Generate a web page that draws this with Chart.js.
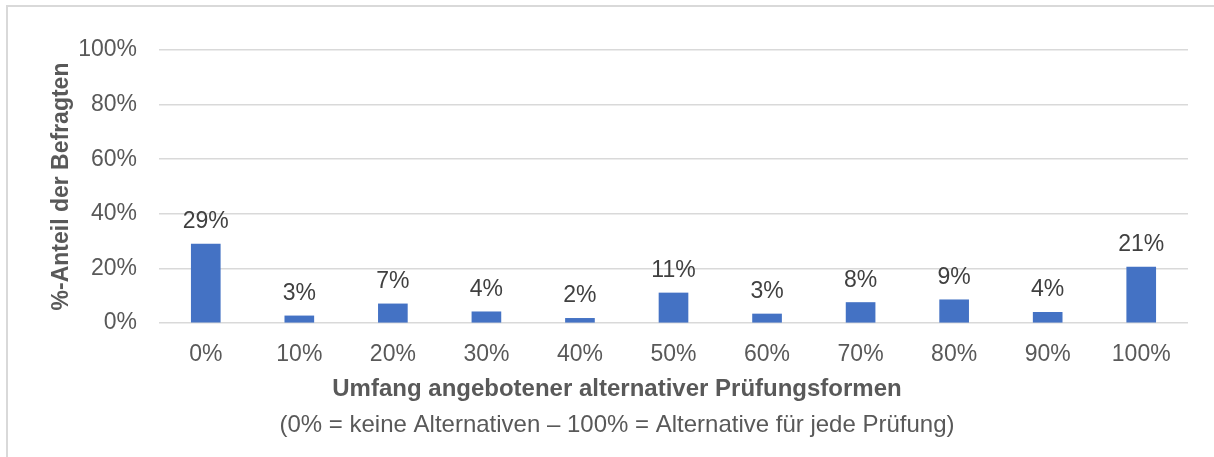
<!DOCTYPE html>
<html lang="de">
<head>
  <meta charset="utf-8" />
  <title>Umfang alternativer Prüfungsformen</title>
  <script src="https://cdn.jsdelivr.net/npm/chart.js@4.4.0/dist/chart.umd.min.js"></script>
  <style>
    html, body { margin: 0; padding: 0; background: #ffffff; overflow: hidden; }
    .frame {
      position: absolute; left: 6px; top: 5px; width: 1400px; height: 600px;
      border: 2px solid #d9d9d9;
    }
    .box { position: absolute; left: 0; top: 0; width: 1214px; height: 457px; }
  </style>
</head>
<body>
  <div class="frame"></div>
  <div class="box"><canvas id="chart" width="1214" height="457"></canvas></div>

  <script>
    // categories (share of exams with an alternative form)
    const categories = ["0%", "10%", "20%", "30%", "40%", "50%", "60%", "70%", "80%", "90%", "100%"];
    // share of respondents in percent
    const shares = [28.9, 2.6, 7.0, 4.1, 1.7, 11.0, 3.3, 7.5, 8.5, 3.9, 20.5];
    const yTicks = [0, 20, 40, 60, 80, 100];

    const yTitle = "%-Anteil der Befragten";
    const xTitle = "Umfang angebotener alternativer Prüfungsformen";
    const xNote = "(0% = keine Alternativen – 100% = Alternative für jede Prüfung)";

    const fontFamily = "'Liberation Sans', Arial, sans-serif";

    // value labels above the bars
    const barLabels = {
      id: "barLabels",
      afterDatasetsDraw(chart) {
        const ctx = chart.ctx;
        const meta = chart.getDatasetMeta(0);
        ctx.save();
        ctx.font = "23px " + fontFamily;
        ctx.fillStyle = "#404040";
        ctx.textAlign = "center";
        ctx.textBaseline = "alphabetic";
        meta.data.forEach((bar, i) => {
          ctx.fillText(Math.round(shares[i]) + "%", bar.x, bar.y - 16);
        });
        ctx.restore();
      }
    };

    new Chart(document.getElementById("chart"), {
      type: "bar",
      plugins: [barLabels],
      data: {
        labels: categories,
        datasets: [{
          data: shares,
          backgroundColor: "#4472c4",
          borderWidth: 0,
          barThickness: 29
        }]
      },
      options: {
        responsive: false,
        animation: false,
        layout: { padding: { left: 46, right: 26, top: 50, bottom: 0 } },
        plugins: {
          legend: { display: false },
          tooltip: { enabled: false },
          subtitle: {
            display: true,
            position: "bottom",
            text: xTitle,
            color: "#595959",
            font: { family: fontFamily, size: 24, weight: "bold", lineHeight: 1.2 },
            padding: { top: 0, bottom: 7.2 }
          },
          title: {
            display: true,
            position: "bottom",
            text: xNote,
            color: "#595959",
            font: { family: fontFamily, size: 24, weight: "normal", lineHeight: 1.2 },
            padding: { top: 0, bottom: 17.6 }
          }
        },
        scales: {
          x: {
            grid: { display: false },
            border: { display: false },
            ticks: {
              color: "#595959",
              font: { family: fontFamily, size: 23 },
              padding: 10,
              maxRotation: 0,
              autoSkip: false
            },
            afterFit(scale) { scale.height = 51.6; }
          },
          y: {
            min: 0,
            max: 100,
            afterBuildTicks(scale) { scale.ticks = yTicks.map(v => ({ value: v })); },
            grid: { color: "#d9d9d9", lineWidth: 1.5, drawTicks: false },
            border: { display: false },
            ticks: {
              color: "#595959",
              font: { family: fontFamily, size: 23 },
              padding: 22,
              callback: v => v + "%"
            },
            title: {
              display: true,
              text: yTitle,
              color: "#595959",
              font: { family: fontFamily, size: 23, weight: "bold", lineHeight: 1.2 },
              padding: { top: 1.5, bottom: 0 }
            },
            afterFit(scale) { scale.width = 113; }
          }
        }
      }
    });
  </script>
</body>
</html>
